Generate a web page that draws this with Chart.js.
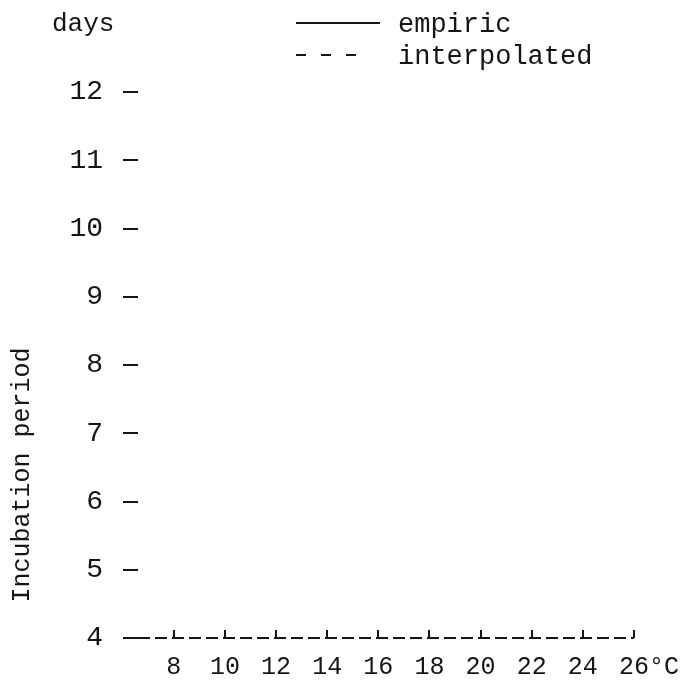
<!DOCTYPE html>
<html>
<head>
<meta charset="utf-8">
<script src="https://cdn.jsdelivr.net/npm/chart.js@4.4.0/dist/chart.umd.min.js"></script>
<style>
html, body { margin: 0; padding: 0; background: #fff; }
</style>
</head>
<body>
<canvas id="incubationChart" width="689" height="688"></canvas>
<script>
// x axis: temperature (°C)
var temperatures = [8, 10, 12, 14, 16, 18, 20, 22, 24, 26];
// y axis: incubation period (days)
var dayTicks = [4, 5, 6, 7, 8, 9, 10, 11, 12];
// legend entries; the picture shows no curves, so the series stay empty
var seriesNames = ["empiric", "interpolated"];
var empiric = [];
var interpolated = [];

var ink = "#151515";
var mono = "'Liberation Mono', 'DejaVu Sans Mono', monospace";

// "days" label, the two-line legend and the rotated axis title
var headerPlugin = {
    id: 'header',
    afterDraw: function (chart) {
        var ctx = chart.ctx;
        ctx.save();
        ctx.fillStyle = ink;
        ctx.strokeStyle = ink;
        ctx.textAlign = 'left';
        ctx.textBaseline = 'alphabetic';
        ctx.font = "26px " + mono;
        ctx.fillText('days', 52, 31);

        chart.data.datasets.forEach(function (ds, i) {
            var y = 23 + i * 32;
            var dashed = ds.borderDash && ds.borderDash.length;
            ctx.lineWidth = 2;
            ctx.setLineDash(ds.borderDash || []);
            ctx.beginPath();
            ctx.moveTo(296, y);
            ctx.lineTo(dashed ? 356 : 380, y);
            ctx.stroke();
            ctx.setLineDash([]);
            ctx.font = "27px " + mono;
            ctx.fillText(ds.label, 398, y + 9);
        });

        ctx.translate(22, 475);
        ctx.rotate(-Math.PI / 2);
        ctx.textAlign = 'center';
        ctx.textBaseline = 'middle';
        ctx.font = "25px " + mono;
        ctx.fillText('Incubation period', 0, 0);
        ctx.restore();
    }
};

// unit after the last temperature label
var unitPlugin = {
    id: 'unit',
    afterDraw: function (chart) {
        var sx = chart.scales.x;
        var ctx = chart.ctx;
        var last = temperatures[temperatures.length - 1];
        ctx.save();
        ctx.font = "25px " + mono;
        ctx.fillStyle = ink;
        ctx.textBaseline = 'middle';
        ctx.textAlign = 'left';
        var w = ctx.measureText(String(last)).width;
        ctx.fillText('°C', sx.getPixelForValue(last) + w / 2, sx.top - 8 + 22 + 15);
        ctx.restore();
    }
};

var ctx = document.getElementById("incubationChart").getContext("2d");
new Chart(ctx, {
    type: 'line',
    data: {
        datasets: [{
            label: seriesNames[0],
            data: empiric,
            borderColor: ink,
            borderWidth: 2,
            borderDash: [],
            pointRadius: 0
        }, {
            label: seriesNames[1],
            data: interpolated,
            borderColor: ink,
            borderWidth: 2,
            borderDash: [10, 15],
            pointRadius: 0
        }]
    },
    options: {
        responsive: false,
        animation: false,
        layout: { padding: { top: 92, right: 55, bottom: 0, left: 0 } },
        plugins: {
            legend: { display: false },
            tooltip: { enabled: false }
        },
        scales: {
            x: {
                type: 'linear',
                min: 6.6,
                max: 26,
                afterBuildTicks: function (scale) {
                    scale.ticks = temperatures.map(function (v) { return { value: v }; });
                },
                afterFit: function (scale) { scale.height = 50; },
                grid: {
                    drawOnChartArea: false,
                    drawTicks: true,
                    tickLength: -8,
                    color: ink,
                    lineWidth: 2
                },
                border: { display: false },
                ticks: {
                    color: ink,
                    font: { family: mono, size: 25 },
                    padding: 22,
                    maxRotation: 0,
                    autoSkip: false
                }
            },
            y: {
                type: 'linear',
                min: 4,
                max: 12,
                afterBuildTicks: function (scale) {
                    scale.ticks = dayTicks.map(function (v) { return { value: v }; });
                },
                afterFit: function (scale) { scale.width = 138; },
                grid: {
                    // only the lowest grid line is shown: the dashed base line
                    drawOnChartArea: true,
                    drawTicks: true,
                    tickLength: 15,
                    color: function (c) {
                        return c.tick && c.tick.value === dayTicks[0] ? ink : 'rgba(0,0,0,0)';
                    },
                    tickColor: ink,
                    lineWidth: 2
                },
                border: { display: false, dash: [12, 5] },
                ticks: {
                    color: ink,
                    font: { family: mono, size: 28 },
                    padding: 20
                }
            }
        }
    },
    plugins: [headerPlugin, unitPlugin]
});
</script>
</body>
</html>
